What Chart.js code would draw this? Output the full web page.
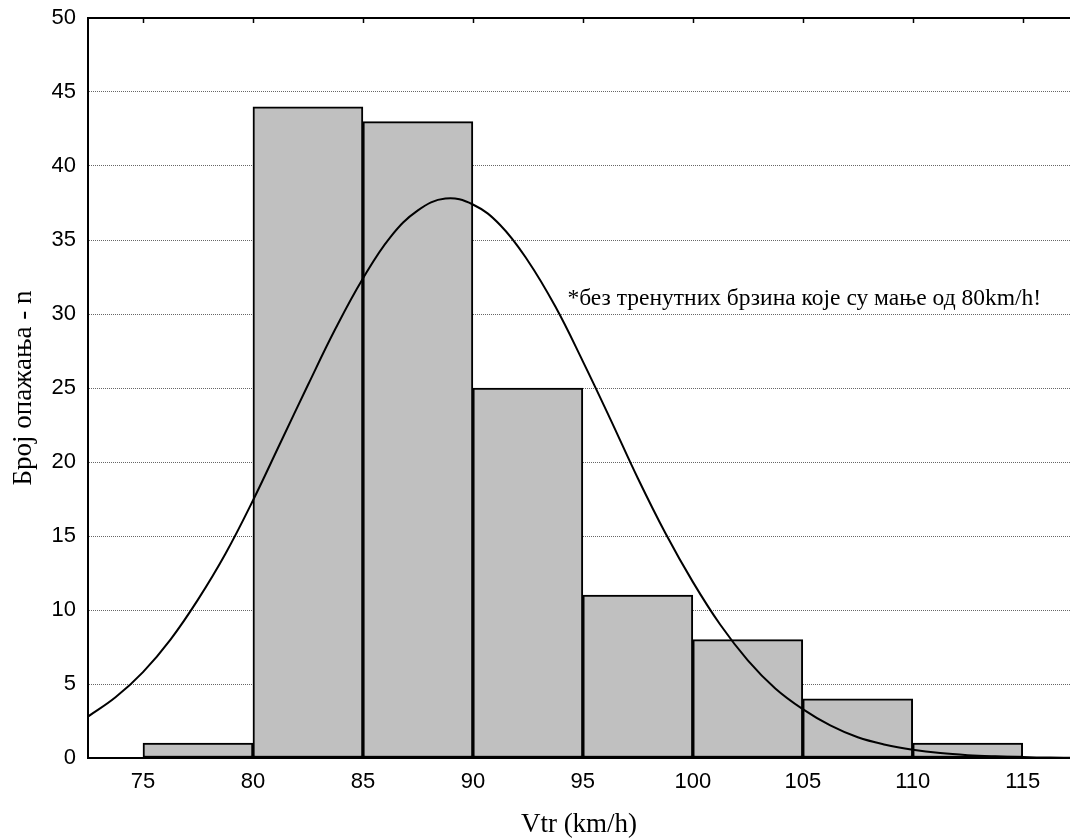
<!DOCTYPE html>
<html>
<head>
<meta charset="utf-8">
<script src="https://cdn.jsdelivr.net/npm/chart.js@4"></script>
<style>
  html, body { margin: 0; padding: 0; background: #fff; }
  #wrap { width: 1070px; height: 840px; }
</style>
</head>
<body>
<div id="wrap"><canvas id="chart" width="1070" height="840"></canvas></div>
<script>
  // histogram bins (centres) and counts
  const binCenters = [77.5, 82.5, 87.5, 92.5, 97.5, 102.5, 107.5, 112.5];
  const binCounts = [1, 44, 43, 25, 11, 8, 4, 1];

  // fitted normal curve
  const curveX = [72.5, 73.75, 75, 76.25, 77.5, 78.75, 80, 81.25, 82.5, 83.75, 85, 86.25, 87.5, 88.75,
    90, 91.25, 92.5, 93.75, 95, 96.25, 97.5, 98.75, 100, 101.25, 102.5, 103.75, 105, 106.25,
    107.5, 108.75, 110, 111.25, 112.5, 113.75, 115, 116.25, 117.5];
  const curveY = [2.8, 4.1, 5.8, 8.0, 10.7, 13.8, 17.4, 21.3, 25.2, 29.0, 32.4, 35.2, 37.0, 37.8,
    37.4, 36.0, 33.6, 30.5, 26.8, 22.9, 18.9, 15.2, 11.9, 9.0, 6.6, 4.7, 3.3, 2.2,
    1.4, 0.9, 0.56, 0.33, 0.19, 0.11, 0.06, 0.03, 0.02];

  const xTicks = [75, 80, 85, 90, 95, 100, 105, 110, 115];
  const yTicks = [0, 5, 10, 15, 20, 25, 30, 35, 40, 45, 50];

  const noteText = '*без тренутних брзина које су мање од 80km/h!';
  const noteAt = { x: 94.3, y: 31.0 };

  const tickFont = { family: 'Liberation Sans', size: 22 };
  const titleFont = { family: 'Liberation Serif', size: 27, lineHeight: 1.1 };

  const frame = {
    id: 'frame',
    afterDraw(chart) {
      const { ctx, chartArea } = chart;
      const x = chart.scales.x;
      ctx.save();
      ctx.strokeStyle = '#000';
      ctx.lineWidth = 2;
      ctx.beginPath();
      ctx.moveTo(chartArea.left, chartArea.top);
      ctx.lineTo(chartArea.right, chartArea.top);
      ctx.stroke();
      ctx.lineWidth = 1.5;
      xTicks.forEach(v => {
        const px = Math.round(x.getPixelForValue(v)) + 0.5;
        ctx.beginPath();
        ctx.moveTo(px, chartArea.top);
        ctx.lineTo(px, chartArea.top + 5);
        ctx.stroke();
      });
      ctx.restore();
    },
    afterDatasetsDraw(chart) {
      const { ctx } = chart;
      ctx.save();
      ctx.fillStyle = '#000';
      ctx.font = '23.5px "Liberation Serif"';
      ctx.textAlign = 'left';
      ctx.textBaseline = 'middle';
      ctx.fillText(noteText, chart.scales.x.getPixelForValue(noteAt.x), chart.scales.y.getPixelForValue(noteAt.y));
      ctx.restore();
    }
  };

  new Chart(
    document.getElementById('chart'),
    {
      type: 'bar',
      data: {
        datasets: [
          {
            type: 'line',
            data: curveX.map((v, i) => ({ x: v, y: curveY[i] })),
            borderColor: '#000',
            borderWidth: 2,
            pointRadius: 0,
            tension: 0.4,
            fill: false,
            order: 0
          },
          {
            type: 'bar',
            data: binCenters.map((v, i) => ({ x: v, y: binCounts[i] })),
            backgroundColor: '#c0c0c0',
            borderColor: '#000',
            borderWidth: 2,
            borderSkipped: false,
            barPercentage: 1,
            categoryPercentage: 1,
            order: 1
          }
        ]
      },
      options: {
        responsive: false,
        animation: false,
        layout: {
          padding: { top: 18, left: 0, right: 0, bottom: 0 }
        },
        plugins: {
          legend: { display: false },
          tooltip: { enabled: false }
        },
        scales: {
          x: {
            type: 'linear',
            min: 72.5,
            max: 117.15,
            offset: false,
            grid: { display: false, offset: false, drawTicks: false },
            border: { display: true, color: '#000', width: 2 },
            afterBuildTicks: (scale) => {
              scale.ticks = xTicks.map(v => ({ value: v }));
            },
            afterFit: (scale) => {
              scale.height = 82;
              scale.paddingLeft = 0;
              scale.paddingRight = 0;
            },
            ticks: {
              color: '#000',
              font: tickFont,
              padding: 11,
              maxRotation: 0,
              autoSkip: false
            },
            title: {
              display: true,
              text: 'Vtr (km/h)',
              color: '#000',
              font: titleFont,
              padding: 0
            }
          },
          y: {
            min: 0,
            max: 50,
            afterBuildTicks: (scale) => {
              scale.ticks = yTicks.map(v => ({ value: v }));
            },
            afterFit: (scale) => {
              scale.width = 88;
              scale.paddingTop = 0;
              scale.paddingBottom = 0;
            },
            grid: { color: '#666', lineWidth: 1, drawTicks: false },
            border: { display: true, color: '#000', width: 2, dash: [1, 1] },
            ticks: {
              color: '#000',
              font: tickFont,
              padding: 12
            },
            title: {
              display: true,
              text: 'Број опажања - n',
              color: '#000',
              font: titleFont,
              padding: { top: 9, bottom: 0 }
            }
          }
        }
      },
      plugins: [frame]
    }
  );
</script>
</body>
</html>
